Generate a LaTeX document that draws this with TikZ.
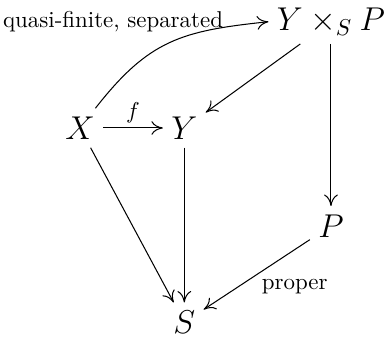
\documentclass[tikz,border=0pt]{standalone}
\usetikzlibrary{positioning, arrows.meta}

\begin{document}
\begin{tikzpicture}[
  obj/.style={font=\Large, inner sep=3.5pt, on grid},
  arr/.style={-{Computer Modern Rightarrow[length=5pt, width=6pt]}, line width=0.45pt},
  lbl/.style={font=\normalsize, inner sep=2pt},
]
\useasboundingbox (-1.227,-3.252) rectangle (4.694,1.963);

% === Nodes ===
\node[obj] (X) at (0,0) {$X$};

\node[obj, right=1.6cm of X] (Y) {$Y$};

\node[obj, above right=1.63cm and 2.25cm of Y] (YP) {$Y \times_S P$};

\node[obj, below=3.13cm of YP] (P) {$P$};

\node[obj, below=2.98cm of Y] (S) {$S$};

% === Arrows ===
\draw[arr] (X) -- node[lbl, above] {$f$} (Y);
\draw[arr] (X) to[out=52, in=186, looseness=1.15] (YP.west);
\node[lbl, left=0.62cm of YP.west] (qf) {quasi-finite, separated};
\draw[arr] (YP) -- (Y);
\draw[arr] (YP) -- (P);
\draw[arr] (Y) -- (S);
\draw[arr] (X) -- (S);
\draw[arr] (P) -- node[lbl, pos=0.5, anchor=north west] {proper} (S);

\end{tikzpicture}
\end{document}
